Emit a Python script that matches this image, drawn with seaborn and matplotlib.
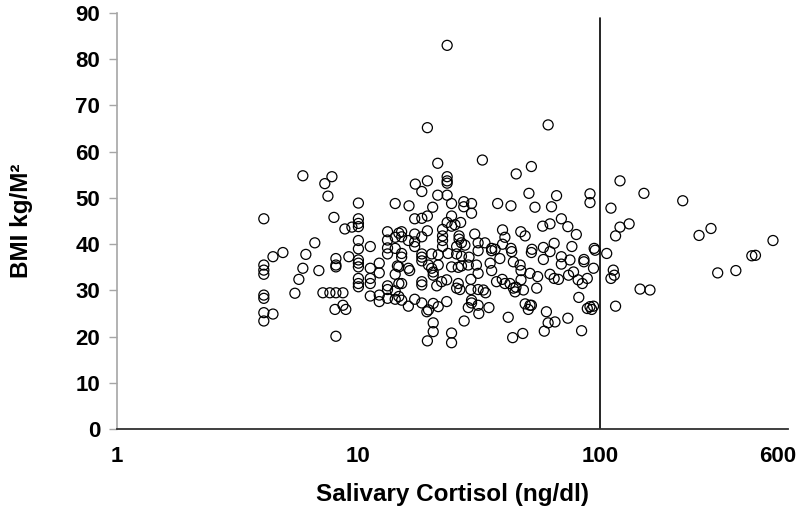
import matplotlib
matplotlib.use("Agg")
import matplotlib.pyplot as plt
import matplotlib.transforms as mtransforms
import seaborn as sns
import pandas as pd

# Salivary cortisol (ng/dl) and BMI (kg/M2)
cortisol = [
    4.06, 4.06, 4.06, 4.06, 4.06, 4.06, 4.06, 4.06,
    4.43, 4.43, 4.87, 5.46, 5.67, 5.89, 5.89, 6.06,
    6.6, 6.86, 7.13, 7.26, 7.48, 7.62, 7.77, 7.92,
    8.07, 8.07, 8.07, 8.07, 8.0, 8.07, 8.63, 8.63,
    8.87, 8.79, 9.13, 9.4,
    10, 10, 10, 10, 10, 10, 10, 10, 10, 10, 10, 10,
    11.2, 11.2, 11.2, 11.2, 11.2,
    12.2, 12.2, 12.2, 12.2,
    13.2, 13.2, 13.2, 13.2, 13.2, 13.2, 13.2,
    14.2, 14.2, 14.2, 14.2, 14.2, 14.2,
    14.7, 14.7, 14.7, 14.7,
    21.3, 32.6, 45.0, 52.0, 17.2, 19.3, 23.3, 23.3, 23.3,
    18.3, 21.3, 23.3, 50.8, 66.1, 90.9, 90.9,
    16.2, 20.3, 24.3, 27.3, 27.3, 29.4, 29.4, 37.7, 42.8, 53.8, 63.0,
    17.1, 18.3, 19.3, 24.3, 23.3, 24.3, 25.1, 26.5, 22.3, 19.3,
    17.1, 18.3, 15.1, 15.1, 16.1, 17.1, 17.1, 22.3, 22.3,
    26.1, 26.1, 26.7, 27.6, 30.3, 31.3, 33.4, 22.3, 25.5,
    35.6, 36.8, 39.5, 40.4, 39.5, 42.8, 47.0, 49.0,
    57.9, 62.1, 69.2, 73.6, 79.8, 52.3, 58.3, 64.6, 76.5, 94.6, 62.1,
    15.1, 15.1, 18.3, 18.3, 18.3, 20.1, 21.4, 23.5, 25.5, 26.7, 28.7, 31.3,
    35.6, 38.5, 43.1, 52.0, 58.3, 69.2, 69.2, 75.1, 85.8, 85.8, 94.0, 95.5,
    14.5, 16.1, 16.3, 19.5, 20.1, 20.4, 20.4, 21.4, 24.3, 25.9, 26.7, 28.5,
    30.8, 31.3, 35.1, 35.6, 43.8, 46.7, 47.1, 51.3, 55.2, 62.1, 64.6, 67.3,
    74.1, 77.7, 81.2, 84.5, 88.6,
    15.1, 18.3, 18.3, 21.1, 22.1, 23.2, 25.9, 25.5, 26.3, 29.2, 29.2,
    31.3, 32.9, 33.6, 37.3, 39.4, 40.4, 42.4, 43.8, 44.9, 44.5, 48.2, 47.1, 54.7,
    16.1, 17.1, 18.3, 19.2, 19.5, 20.4, 21.4, 23.2, 29.4, 29.4, 28.5, 31.3,
    31.5, 34.7, 27.4, 20.4, 20.4, 19.3, 24.3, 24.3,
    49.0, 51.3, 50.5, 52.0, 41.7, 43.5, 47.9, 60.0, 61.0, 65.1, 58.8, 73.6,
    81.7, 88.6, 90.9, 94.0, 92.4, 83.9, 15.1,
    121, 152, 220, 111, 121, 132, 116, 257, 288, 520, 106.6, 425, 440,
    113.5, 114.6, 111, 146.5, 161, 116, 307, 365,
    23.3, 19.3, 61,
]
bmi = [
    45.5, 35.5, 34.4, 33.5, 29.0, 28.3, 25.2, 23.4,
    24.9, 37.3, 38.2, 29.4, 32.4, 34.8, 54.8, 37.8,
    40.3, 34.3, 29.5, 53.1, 50.4, 29.5, 54.6, 45.8,
    36.9, 35.5, 35.1, 29.5, 25.9, 20.1, 29.5, 26.8,
    25.9, 43.3, 37.3, 43.7,
    48.9, 45.5, 44.5, 43.8, 40.8, 39.0, 36.6, 35.9, 35.1, 32.6, 31.5, 30.8,
    39.5, 34.8, 32.6, 31.5, 28.8,
    35.9, 33.8, 29.0, 27.6,
    42.7, 40.9, 39.2, 37.9, 31.0, 30.2, 28.3,
    48.8, 41.5, 39.1, 33.5, 29.9, 28.1,
    42.4, 35.1, 31.5, 28.7,
    57.5, 58.2, 55.2, 56.8, 53.0, 53.7, 54.6, 53.7, 53.2,
    51.4, 50.6, 50.6, 51.0, 50.5, 50.9, 49.0,
    48.3, 48.0, 48.8, 49.2, 48.1, 48.8, 46.7, 48.8, 48.3, 48.0, 48.1,
    45.5, 45.6, 46.1, 46.1, 44.7, 43.9, 44.2, 44.7, 43.2, 42.9,
    42.2, 41.6, 42.7, 41.6, 40.8, 40.5, 39.5, 41.8, 40.8,
    41.8, 41.1, 40.3, 39.8, 42.2, 40.3, 40.3, 39.5, 39.5,
    39.1, 38.9, 43.1, 41.5, 40.0, 39.1, 42.7, 41.8,
    43.9, 44.4, 45.5, 43.8, 42.1, 38.9, 39.3, 40.2, 39.5, 39.1, 38.4,
    38.0, 37.2, 37.9, 37.2, 36.4, 37.9, 37.7, 38.0, 37.9, 37.4, 37.2, 38.6,
    38.6, 36.9, 38.4, 38.2, 36.7, 37.3, 35.7, 36.6, 36.7, 36.2, 34.8, 38.7,
    35.3, 34.8, 34.3, 35.5, 34.8, 34.0, 33.3, 35.5, 35.1, 35.0, 35.3, 35.5,
    35.5, 33.7, 35.9, 34.3, 36.2, 35.5, 34.3, 33.7, 33.0, 33.5, 32.6, 32.4,
    33.3, 34.0, 32.3, 31.5, 32.6,
    31.5, 31.9, 31.2, 31.0, 31.9, 32.3, 31.5, 30.5, 30.2, 32.4, 30.2,
    30.2, 30.1, 29.5, 31.9, 32.4, 31.5, 31.5, 30.5, 30.7, 29.7, 30.1, 32.3, 30.5,
    26.6, 28.1, 27.3, 25.4, 25.8, 27.2, 26.5, 27.6, 27.9, 27.3, 26.3, 26.8,
    25.0, 26.3, 23.4, 23.0, 21.1, 19.1, 20.8, 18.7,
    27.1, 26.8, 25.9, 26.8, 24.2, 19.8, 20.7, 25.4, 23.0, 23.2, 21.2, 24.0,
    28.5, 26.1, 26.5, 26.6, 25.9, 21.3, 27.9,
    53.7, 51.0, 49.4, 47.8, 43.7, 44.4, 41.8, 41.9, 43.4, 40.8, 38.0, 37.5, 37.6,
    34.4, 33.3, 32.6, 30.3, 30.1, 26.6, 33.8, 34.3,
    83.0, 65.2, 65.8,
]
x_ticks = [1, 10, 100, 600]
x_tick_labels = ["1", "10", "100", "600"]
y_ticks = [0, 10, 20, 30, 40, 50, 60, 70, 80, 90]
cutoff = 100

df = pd.DataFrame({"cortisol": cortisol, "bmi": bmi})

sns.set_theme(style="white")
plt.rcParams["font.family"] = ["Liberation Sans", "DejaVu Sans"]
plt.rcParams["text.color"] = "black"
plt.rcParams["axes.labelcolor"] = "black"
plt.rcParams["xtick.color"] = "black"
plt.rcParams["ytick.color"] = "black"

fig = plt.figure(figsize=(8.0, 5.19), dpi=100)
ax = fig.add_axes([0.146, 0.173, 0.839, 0.802])

sns.scatterplot(data=df, x="cortisol", y="bmi", ax=ax, marker="o",
                s=52, facecolor="none", edgecolor="black", linewidth=0.9)

ax.set_xscale("log")
ax.set_xlim(1, 600)
ax.set_ylim(0, 90)
ax.axvline(cutoff, ymin=0, ymax=0.988, color="black", linewidth=1.2)

ax.set_xticks(x_ticks)
ax.set_xticklabels(x_tick_labels)
ax.minorticks_off()
ax.set_yticks(y_ticks)
ax.tick_params(axis="x", length=0, pad=12, labelsize=16, labelcolor="black")
ax.tick_params(axis="y", length=6, width=1, color="#a6a6a6", direction="out",
               pad=6, labelsize=16, left=True, labelcolor="black")
for lab in ax.get_xticklabels() + ax.get_yticklabels():
    lab.set_fontweight("bold")
last = ax.get_xticklabels()[-1]
last.set_transform(last.get_transform() + mtransforms.ScaledTranslation(-10 / 100, 0, fig.dpi_scale_trans))

for side in ["top", "right"]:
    ax.spines[side].set_visible(False)
ax.spines["left"].set_color("#a6a6a6")
ax.spines["left"].set_linewidth(1.2)
ax.spines["bottom"].set_color("#303030")
ax.spines["bottom"].set_linewidth(1.3)

ax.set_xlabel("Salivary Cortisol (ng/dl)", fontsize=17.5, fontweight="bold", color="black")
ax.set_ylabel("BMI kg/M²", fontsize=17.5, fontweight="bold", color="black")
ax.xaxis.set_label_coords(0.5, -0.13)
ax.yaxis.set_label_coords(-0.125, 0.5)
ax.grid(False)

fig.savefig("out.png", dpi=100)
